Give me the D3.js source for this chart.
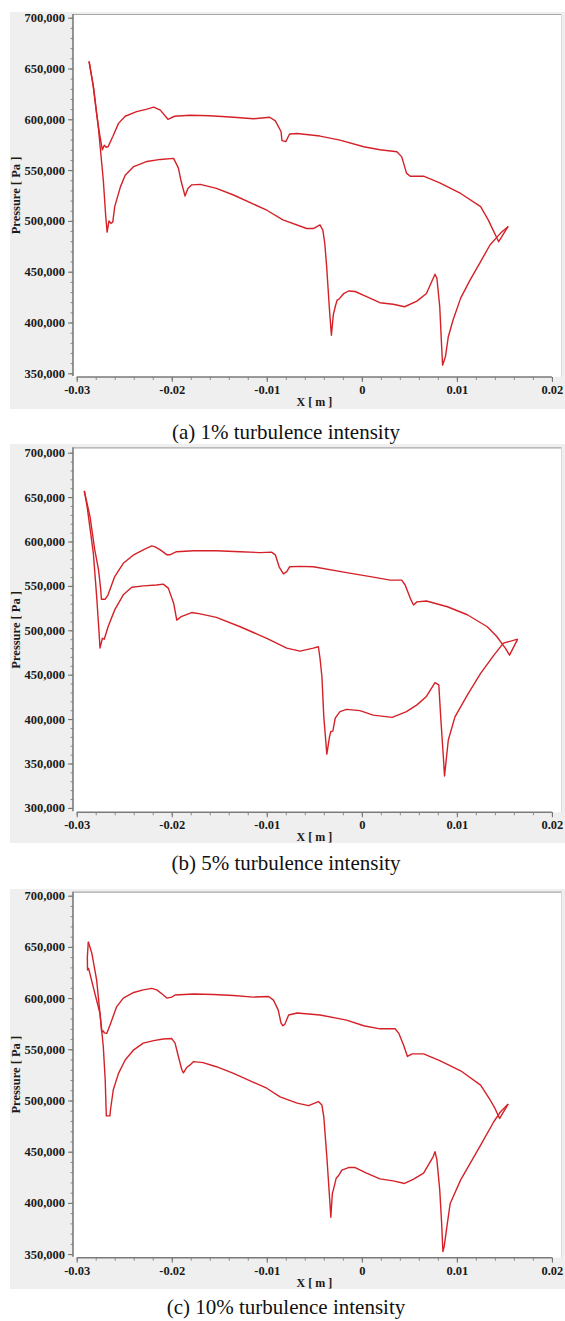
<!DOCTYPE html>
<html>
<head>
<meta charset="utf-8">
<script src="https://cdn.jsdelivr.net/npm/d3@7"></script>
<style>
  html, body { margin: 0; padding: 0; background: #ffffff; }
  svg { display: block; }
  .tick text { font-family: "Liberation Serif", "Times New Roman", serif; font-weight: bold; font-size: 12.5px; fill: #1a1a1a; }
</style>
</head>
<body>
<svg id="chart" width="565" height="1321"></svg>
<script>
// Blade-surface static pressure vs chordwise position X, for three inlet turbulence intensities.

const xTickValues = [-0.03, -0.02, -0.01, 0, 0.01, 0.02];
const xTickLabels = ["-0.03", "-0.02", "-0.01", "0", "0.01", "0.02"];
const yTicksA = [350000, 400000, 450000, 500000, 550000, 600000, 650000, 700000];
const yTicksB = [300000, 350000, 400000, 450000, 500000, 550000, 600000, 650000, 700000];
const yTicksC = [350000, 400000, 450000, 500000, 550000, 600000, 650000, 700000];
const captions = ["(a) 1% turbulence intensity", "(b) 5% turbulence intensity", "(c) 10% turbulence intensity"];

// [X (m), pressure (Pa)] — pressure side (upper branch), 1% intensity
const pressureSideA = [
  [-0.0287, 657000], [-0.0283, 635000], [-0.0279, 605000], [-0.0276, 586000], [-0.0273, 570000],
  [-0.0271, 574500], [-0.0269, 572500], [-0.0267, 573000], [-0.0262, 583000], [-0.0256, 596000],
  [-0.0249, 603000], [-0.0237, 607500], [-0.0226, 610000], [-0.0219, 612000], [-0.0212, 609000],
  [-0.0204, 600000], [-0.0197, 603000], [-0.0181, 604000], [-0.0160, 603500], [-0.0135, 602000],
  [-0.0114, 600500], [-0.0097, 602000], [-0.0091, 598500], [-0.0085, 588000], [-0.0084, 579000],
  [-0.0080, 578000], [-0.0076, 585500], [-0.0068, 586000], [-0.0044, 583500], [-0.0023, 579500],
  [0.0002, 573000], [0.0019, 570000], [0.0037, 568000], [0.0042, 563000], [0.0047, 547000],
  [0.0051, 544000], [0.0065, 544000], [0.0082, 537500], [0.0104, 527000], [0.0125, 514000],
  [0.0133, 501000], [0.0144, 479500], [0.0154, 494500]
];
// suction side (lower branch), 1% intensity
const suctionSideA = [
  [-0.0287, 657000], [-0.0282, 630000], [-0.0277, 590000], [-0.0272, 540000], [-0.02695, 505000],
  [-0.0268, 489000], [-0.0266, 500000], [-0.0264, 497500], [-0.0262, 499000], [-0.0260, 514000],
  [-0.0254, 533500], [-0.0249, 545000], [-0.0240, 553500], [-0.0226, 558500], [-0.0212, 560500],
  [-0.0198, 561500], [-0.0193, 552000], [-0.0190, 538500], [-0.0186, 524500], [-0.0183, 532000],
  [-0.0179, 535500], [-0.0170, 536000], [-0.0153, 532000], [-0.0135, 525500], [-0.0100, 510500],
  [-0.0083, 501000], [-0.0058, 492500], [-0.0051, 492500], [-0.0044, 496000], [-0.0041, 491000],
  [-0.0039, 478000], [-0.0037, 455000], [-0.0034, 412000], [-0.0032, 387500], [-0.0030, 407500],
  [-0.0028, 415500], [-0.0026, 422000], [-0.0024, 423000], [-0.0019, 428500], [-0.0014, 431000],
  [-0.0007, 430500], [0.0005, 425500], [0.0019, 419500], [0.0033, 418000], [0.0045, 415500],
  [0.0058, 421000], [0.0068, 428500], [0.0077, 447500], [0.0079, 443500], [0.0082, 415500],
  [0.0084, 376000], [0.0085, 358000], [0.0088, 366500], [0.0091, 386000], [0.0096, 402500],
  [0.0104, 424000], [0.0114, 442000], [0.0125, 460000], [0.0135, 476500], [0.0146, 488000],
  [0.0154, 494500]
];

// pressure side, 5% intensity
const pressureSideB = [
  [-0.0292, 657000], [-0.0286, 628000], [-0.0281, 590500], [-0.0277, 568000], [-0.02747, 545500],
  [-0.0274, 535000], [-0.0270, 535000], [-0.0267, 540000], [-0.0260, 560500], [-0.0251, 575500],
  [-0.0240, 585000], [-0.0230, 590500], [-0.0221, 595000], [-0.02175, 594000], [-0.0212, 590500],
  [-0.0205, 585000], [-0.0202, 585000], [-0.0195, 588500], [-0.0177, 589500], [-0.0153, 589500],
  [-0.0128, 588500], [-0.0107, 587500], [-0.0095, 588000], [-0.0091, 585000], [-0.0087, 571500],
  [-0.00825, 563500], [-0.0079, 566000], [-0.0076, 571500], [-0.0065, 572000], [-0.0051, 571500],
  [-0.0016, 565000], [0.0009, 560500], [0.0030, 556500], [0.0042, 556500], [0.00456, 551000],
  [0.0051, 536000], [0.00544, 528500], [0.0058, 532000], [0.0068, 533000], [0.0090, 526500],
  [0.0111, 517500], [0.0132, 504000], [0.0142, 493000], [0.0151, 480000], [0.01554, 472000],
  [0.0164, 490000]
];
// suction side, 5% intensity
const suctionSideB = [
  [-0.0292, 657000], [-0.0289, 639000], [-0.02825, 587000], [-0.0279, 538000], [-0.02762, 493000],
  [-0.02755, 480000], [-0.0273, 491000], [-0.0271, 490000], [-0.0267, 504000], [-0.0260, 523000],
  [-0.0251, 540000], [-0.0242, 548500], [-0.0230, 550000], [-0.0216, 551000], [-0.0209, 552000],
  [-0.02036, 547500], [-0.0198, 530500], [-0.01947, 511500], [-0.0190, 515500], [-0.0179, 520000],
  [-0.0170, 518500], [-0.0153, 514500], [-0.0128, 504000], [-0.0100, 491000], [-0.0079, 480000],
  [-0.0065, 476500], [-0.0051, 480000], [-0.00457, 481500], [-0.0044, 468500], [-0.0042, 448000],
  [-0.0040, 402500], [-0.00368, 360500], [-0.0034, 380000], [-0.00326, 386000], [-0.00305, 386500],
  [-0.0028, 401000], [-0.0023, 408500], [-0.0016, 411000], [-0.0002, 409500], [0.0012, 404500],
  [0.0032, 402000], [0.0047, 408500], [0.0058, 416000], [0.0068, 425500], [0.0077, 441000],
  [0.0081, 438500], [0.0083, 402500], [0.0086, 354000], [0.0087, 336000], [0.00888, 354000],
  [0.0091, 376500], [0.0098, 402500], [0.0111, 427000], [0.0125, 451500], [0.0139, 472000],
  [0.0149, 485500], [0.0164, 490000]
];

// pressure side, 10% intensity
const pressureSideC = [
  [-0.02878, 655000], [-0.02888, 640000], [-0.02886, 627500], [-0.02875, 629000], [-0.0281, 605000],
  [-0.02755, 585000], [-0.02737, 567000], [-0.0272, 568000], [-0.0271, 566000], [-0.02684, 565500],
  [-0.0265, 573500], [-0.0258, 591500], [-0.0251, 600000], [-0.0240, 605500], [-0.0230, 608000],
  [-0.0221, 609500], [-0.02157, 608000], [-0.02088, 603000], [-0.02052, 600000], [-0.0200, 601000],
  [-0.01965, 603000], [-0.0177, 604000], [-0.0156, 603500], [-0.0135, 602500], [-0.0114, 601000],
  [-0.0098, 601500], [-0.0093, 598000], [-0.0088, 588500], [-0.0085, 575500], [-0.0083, 573000],
  [-0.0081, 574500], [-0.0077, 583500], [-0.0068, 585500], [-0.0044, 583500], [-0.0016, 578500],
  [0.0002, 573000], [0.0019, 570000], [0.0035, 570000], [0.0039, 565500], [0.0044, 554000],
  [0.0048, 543000], [0.0053, 545500], [0.0065, 545500], [0.0082, 539000], [0.0104, 529000],
  [0.0125, 515000], [0.0135, 500500], [0.0140, 492500], [0.0145, 482500], [0.0154, 496500]
];
// suction side, 10% intensity
const suctionSideC = [
  [-0.02878, 655000], [-0.0284, 643500], [-0.0279, 617500], [-0.02755, 585000], [-0.0272, 552500],
  [-0.0270, 520000], [-0.0269, 490000], [-0.02688, 485000], [-0.0265, 485000], [-0.02645, 490500],
  [-0.02615, 510500], [-0.0256, 526500], [-0.0249, 539500], [-0.0240, 549500], [-0.0230, 556000],
  [-0.0219, 558500], [-0.0209, 560000], [-0.0200, 560500], [-0.01965, 556000], [-0.0193, 543000],
  [-0.01894, 530000], [-0.01877, 527000], [-0.0184, 532500], [-0.0181, 534500], [-0.0177, 538000],
  [-0.0167, 537000], [-0.0153, 533000], [-0.0135, 526500], [-0.0100, 512000], [-0.0086, 503500],
  [-0.0068, 497500], [-0.0056, 495000], [-0.00457, 499000], [-0.0042, 495500], [-0.0040, 484000],
  [-0.00368, 445000], [-0.0034, 406000], [-0.00326, 386000], [-0.0031, 409500], [-0.0030, 412500],
  [-0.0027, 424000], [-0.00246, 426500], [-0.0021, 432000], [-0.0014, 434500], [-0.0007, 434500],
  [0.0005, 429000], [0.0019, 423500], [0.0033, 421500], [0.0045, 419000], [0.0054, 423000],
  [0.0065, 429000], [0.0075, 445000], [0.0077, 450000], [0.0079, 442000], [0.0082, 412500],
  [0.0084, 380000], [0.00853, 352500], [0.00866, 357000], [0.0090, 380000], [0.0093, 399500],
  [0.0104, 422500], [0.0114, 438500], [0.0125, 456500], [0.0139, 479500], [0.0146, 489000],
  [0.0154, 496500]
];

// Layout of the three stacked panels
const panels = [
  { caption: captions[0], yTicks: yTicksA, series: [pressureSideA, suctionSideA],
    bgTop: 12, bgBottom: 409, top: 14, bottom: 377, yPix: [373.3, 17.7], capY: 439 },
  { caption: captions[1], yTicks: yTicksB, series: [pressureSideB, suctionSideB],
    bgTop: 444, bgBottom: 843, top: 447.3, bottom: 812.3, yPix: [807.9, 452.7], capY: 870 },
  { caption: captions[2], yTicks: yTicksC, series: [pressureSideC, suctionSideC],
    bgTop: 889, bgBottom: 1289, top: 891.7, bottom: 1257.7, yPix: [1254.1, 895.7], capY: 1314 }
];

const svg = d3.select("#chart");
svg.append("rect").attr("width", 565).attr("height", 1321).attr("fill", "#ffffff");

const plotLeft = 73, plotRight = 562, bgLeft = 10, bgRight = 565;
const x = d3.scaleLinear().domain([-0.03, 0.02]).range([76.7, 551.9]);
const serif = '"Liberation Serif", "Times New Roman", serif';

panels.forEach(p => {
  const g = svg.append("g");
  const yMin = p.yTicks[0], yMax = p.yTicks[p.yTicks.length - 1];
  const y = d3.scaleLinear().domain([yMin, yMax]).range(p.yPix);

  // grey frame and white plotting area
  g.append("rect").attr("x", bgLeft).attr("y", p.bgTop)
    .attr("width", bgRight - bgLeft).attr("height", p.bgBottom - p.bgTop).attr("fill", "#efefef");
  g.append("rect").attr("x", plotLeft).attr("y", p.top)
    .attr("width", plotRight - plotLeft).attr("height", p.bottom - p.top).attr("fill", "#ffffff");
  g.append("line").attr("x1", plotLeft).attr("x2", plotRight).attr("y1", p.top + 0.5).attr("y2", p.top + 0.5)
    .attr("stroke", "#a6a6a6").attr("stroke-width", 1.2);
  g.append("line").attr("x1", plotRight - 0.5).attr("x2", plotRight - 0.5).attr("y1", p.top).attr("y2", p.bottom)
    .attr("stroke", "#d9d9d9").attr("stroke-width", 1);

  // curves
  const line = d3.line().x(d => x(d[0])).y(d => y(d[1]));
  p.series.forEach(s => {
    g.append("path").datum(s).attr("d", line)
      .attr("fill", "none").attr("stroke", "#d42128").attr("stroke-width", 1.4)
      .attr("stroke-linejoin", "round");
  });

  // y axis: major ticks, minor ticks, axis line
  const yMinor = d3.range(yMin, yMax + 1, 10000);
  g.append("g").attr("transform", `translate(${plotLeft},0)`)
    .call(d3.axisLeft(y).tickValues(yMinor).tickSize(2.5).tickFormat(""))
    .call(a => a.select(".domain").remove())
    .call(a => a.selectAll("line").attr("stroke", "#8a8a8a"));
  g.append("g").attr("transform", `translate(${plotLeft},0)`)
    .call(d3.axisLeft(y).tickValues(p.yTicks).tickSize(5).tickPadding(3).tickFormat(d3.format(",")))
    .call(a => a.select(".domain").remove())
    .call(a => a.selectAll("line").attr("stroke", "#6e6e6e"));
  g.append("line").attr("x1", plotLeft).attr("x2", plotLeft).attr("y1", p.top).attr("y2", p.bottom - 1)
    .attr("stroke", "#7a7a7a").attr("stroke-width", 1.6);

  // x axis
  const xMinor = d3.range(-0.03, 0.0201, 0.002);
  g.append("g").attr("transform", `translate(0,${p.bottom})`)
    .call(d3.axisBottom(x).tickValues(xMinor).tickSize(3).tickFormat(""))
    .call(a => a.select(".domain").remove())
    .call(a => a.selectAll("line").attr("stroke", "#8a8a8a"));
  g.append("g").attr("transform", `translate(0,${p.bottom})`)
    .call(d3.axisBottom(x).tickValues(xTickValues).tickSize(5).tickPadding(3)
      .tickFormat((d, i) => xTickLabels[i]))
    .call(a => a.select(".domain").remove())
    .call(a => a.selectAll("line").attr("stroke", "#6e6e6e"));
  g.append("line").attr("x1", x(-0.03)).attr("x2", x(0.02)).attr("y1", p.bottom).attr("y2", p.bottom)
    .attr("stroke", "#7a7a7a").attr("stroke-width", 1.6);

  // axis titles
  g.append("text").attr("x", (x(-0.03) + x(0.02)) / 2).attr("y", p.bottom + 29)
    .attr("text-anchor", "middle").attr("font-family", serif).attr("font-weight", "bold")
    .attr("font-size", 12).attr("fill", "#1a1a1a").text("X [ m ]");
  g.append("text").attr("transform", `translate(20,${(p.top + p.bottom) / 2}) rotate(-90)`)
    .attr("text-anchor", "middle").attr("font-family", serif).attr("font-weight", "bold")
    .attr("font-size", 12.5).attr("fill", "#1a1a1a").text("Pressure [ Pa ]");

  // caption
  svg.append("text").attr("x", 286).attr("y", p.capY).attr("text-anchor", "middle")
    .attr("font-family", serif).attr("font-size", 21).attr("fill", "#111111").text(p.caption);
});
</script>
</body>
</html>
